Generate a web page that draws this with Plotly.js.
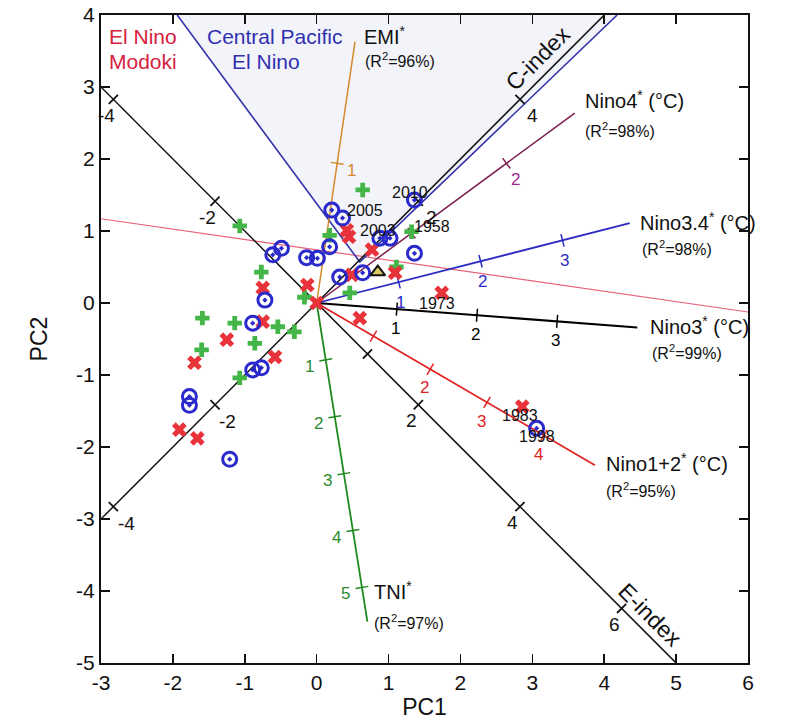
<!DOCTYPE html>
<html>
<head>
<meta charset="utf-8">
<script src="https://cdn.plot.ly/plotly-3.0.1.min.js"></script>
<style>html,body{margin:0;padding:0;background:#fff;}#chart{width:790px;height:728px;}</style>
</head>
<body>
<div id="chart"></div>
<script>
// ---------------- data ----------------
const xTickVals = [-3, -2, -1, 0, 1, 2, 3, 4, 5, 6];
const yTickVals = [-5, -4, -3, -2, -1, 0, 1, 2, 3, 4];

// biplot variable vectors (loading per unit of the variable)
const vecNames   = ['EMI', 'Nino4', 'Nino3.4', 'Nino3', 'Nino1+2', 'TNI'];
const vecUnitX   = [0.285, 1.32, 1.14, 1.115, 0.79, 0.126];
const vecUnitY   = [1.94, 0.97, 0.29, -0.085, -0.46, -0.79];
const vecLength  = [1.87, 2.72, 3.82, 4.0, 4.9, 5.6];
const vecTicks   = [[1], [1, 2], [1, 2, 3], [1, 2, 3], [1, 2, 3, 4], [1, 2, 3, 4, 5]];
const vecTickLbl = [['1'], ['', '2'], ['1', '2', '3'], ['1', '2', '3'], ['', '2', '3', '4'], ['1', '2', '3', '4', '5']];
const vecTitle   = ['EMI<sup>*</sup>', 'Nino4<sup>*</sup> (°C)', 'Nino3.4<sup>*</sup> (°C)', 'Nino3<sup>*</sup> (°C)', 'Nino1+2<sup>*</sup> (°C)', 'TNI<sup>*</sup>'];
const vecR2      = ['(R<sup>2</sup>=96%)', '(R<sup>2</sup>=98%)', '(R<sup>2</sup>=98%)', '(R<sup>2</sup>=99%)', '(R<sup>2</sup>=95%)', '(R<sup>2</sup>=97%)'];

// E and C index axes
const eIndexUnit  = [0.707, -0.707];
const eIndexSpan  = [-4.24, 7.07];
const eIndexTicks = [-4, -2, 1, 2, 4, 6];
const eIndexLbl   = ['-4', '-2', '', '2', '4', '6'];
const cIndexUnit  = [0.707, 0.707];
const cIndexSpan  = [-4.24, 5.66];
const cIndexTicks = [-4, -2, 2, 4];
const cIndexLbl   = ['-4', '-2', '2', '4'];

// regime boundaries
const cpBoundaryX = [-1.94, 0.6, 4.18];
const cpBoundaryY = [4.0, 0.57, 4.0];
const modokiX = [-3, 6];
const modokiY = [1.17, -0.125];

// events
const redX = [0.42, 0.45, 0.77, -0.13, 0.0, 0.49, 1.09, 1.74, 0.60, -0.75, -0.75, -1.25, -1.70, -0.58, -1.91, -1.66, 2.86];
const redY = [1.01, 0.92, 0.74, 0.25, 0.0, 0.39, 0.42, 0.14, -0.21, 0.21, -0.26, -0.51, -0.83, -0.75, -1.76, -1.88, -1.44];
const greenX = [0.64, -1.07, 0.18, 1.32, 1.11, 0.46, -0.17, -0.77, -1.59, -1.14, -0.54, -0.31, -0.86, -1.60, -1.07];
const greenY = [1.57, 1.07, 0.94, 0.99, 0.50, 0.14, 0.08, 0.43, -0.21, -0.28, -0.33, -0.40, -0.56, -0.65, -1.04];
const blueX = [0.21, 0.36, 1.36, 0.88, 1.02, 1.36, 0.18, -0.14, 0.01, -0.61, -0.49, 0.32, 0.64, -0.72, -0.89, -0.89, -0.77, -1.77, -1.77, -1.21, 3.06];
const blueY = [1.29, 1.18, 1.43, 0.90, 0.90, 0.69, 0.78, 0.63, 0.62, 0.67, 0.76, 0.36, 0.42, 0.04, -0.28, -0.93, -0.90, -1.30, -1.42, -2.17, -1.74];
const triX = [0.85];
const triY = [0.43];

const yearLbl = ['2005', '2010', '2003', '1958', '1973', '1983', '1998'];
const yearX   = [0.67, 1.30, 0.85, 1.60, 1.68, 2.83, 3.06];
const yearY   = [1.29, 1.54, 1.01, 1.06, 0.0, -1.56, -1.86];

// ---------------- styles ----------------
const FONT = 'Liberation Sans, Arial, Helvetica, sans-serif';
const vecLineColor  = ['#d4892a', '#7b1f4f', '#2b2bc4', '#000000', '#e02424', '#1f8a1f'];
const vecLabelColor = ['#d4892a', '#a0288c', '#2b2bc4', '#000000', '#e02424', '#2d8a2d'];
const vecWidth      = [1.5, 1.5, 1.8, 2.2, 1.8, 1.8];
const vecLblOff     = [[0.2, -0.1], [0.12, -0.23], [0.03, -0.28], [-0.02, -0.27], [-0.08, -0.26], [-0.23, -0.09]];
const vecTitlePos   = [[0.63, 3.72], [3.70, 2.82], [4.47, 1.13], [4.61, -0.31], [4.0, -2.21], [0.77, -3.99]];
const vecR2Pos      = [[0.64, 3.37], [3.70, 2.40], [4.50, 0.76], [4.64, -0.68], [4.0, -2.60], [0.77, -4.43]];

const traces = [];
const ann = [];
const TL = 0.09; // half tick length (data units)

function tickSegs(ux, uy, ts) {
  const n = Math.hypot(ux, uy);
  const px = -uy / n * TL, py = ux / n * TL;
  const xs = [], ys = [];
  ts.forEach(t => {
    xs.push(ux * t - px, ux * t + px, null);
    ys.push(uy * t - py, uy * t + py, null);
  });
  return {xs, ys};
}

// shaded central pacific region
traces.push({x: cpBoundaryX, y: cpBoundaryY, mode: 'lines', fill: 'toself',
  fillcolor: 'rgba(228,231,244,0.45)', line: {color: 'rgba(0,0,0,0)', width: 0}, hoverinfo: 'skip', showlegend: false});
// modoki line
traces.push({x: modokiX, y: modokiY, mode: 'lines', line: {color: '#e8607a', width: 1.2}, hoverinfo: 'skip', showlegend: false});
// cp boundary lines
traces.push({x: cpBoundaryX, y: cpBoundaryY, mode: 'lines', line: {color: '#3333aa', width: 1.6}, hoverinfo: 'skip', showlegend: false});

// E and C index axes
[[eIndexUnit, eIndexSpan, eIndexTicks, eIndexLbl, [-0.1, -0.22]], [cIndexUnit, cIndexSpan, cIndexTicks, cIndexLbl, [0.18, -0.23]]].forEach(([u, s, tk, lb, off]) => {
  traces.push({x: [u[0] * s[0], u[0] * s[1]], y: [u[1] * s[0], u[1] * s[1]], mode: 'lines',
    line: {color: '#111', width: 1.5}, hoverinfo: 'skip', showlegend: false});
  const seg = tickSegs(u[0], u[1], tk);
  traces.push({x: seg.xs, y: seg.ys, mode: 'lines', line: {color: '#111', width: 1.8}, hoverinfo: 'skip', showlegend: false});
  tk.forEach((t, i) => {
    if (!lb[i]) return;
    ann.push({x: u[0] * t + off[0], y: u[1] * t + off[1], text: lb[i], showarrow: false,
      font: {family: FONT, size: 19, color: '#111'}, xanchor: 'center', yanchor: 'middle'});
  });
});

// variable vectors
vecNames.forEach((nm, i) => {
  const ux = vecUnitX[i], uy = vecUnitY[i], L = vecLength[i];
  traces.push({x: [0, ux * L], y: [0, uy * L], mode: 'lines', line: {color: vecLineColor[i], width: vecWidth[i]},
    hoverinfo: 'skip', showlegend: false, name: nm});
  const seg = tickSegs(ux, uy, vecTicks[i]);
  traces.push({x: seg.xs, y: seg.ys, mode: 'lines', line: {color: vecLineColor[i], width: 1.5}, hoverinfo: 'skip', showlegend: false});
  vecTicks[i].forEach((t, k) => {
    const lb = vecTickLbl[i][k];
    if (!lb) return;
    ann.push({x: ux * t + vecLblOff[i][0], y: uy * t + vecLblOff[i][1], text: lb, showarrow: false,
      font: {family: FONT, size: 17, color: vecLabelColor[i]}, xanchor: 'center', yanchor: 'middle'});
  });
  ann.push({x: vecTitlePos[i][0], y: vecTitlePos[i][1], text: vecTitle[i], showarrow: false,
    font: {family: FONT, size: 20, color: '#111'}, xanchor: 'left', yanchor: 'middle'});
  ann.push({x: vecR2Pos[i][0], y: vecR2Pos[i][1], text: vecR2[i], showarrow: false,
    font: {family: FONT, size: 16, color: '#111'}, xanchor: 'left', yanchor: 'middle'});
});

// events
traces.push({x: greenX, y: greenY, mode: 'markers', marker: {symbol: 'cross', size: 12, color: '#44b648', line: {width: 0}}, hoverinfo: 'skip', showlegend: false});
traces.push({x: redX, y: redY, mode: 'markers', marker: {symbol: 'x', size: 13, color: '#e8333a', line: {width: 0}}, hoverinfo: 'skip', showlegend: false});
traces.push({x: blueX, y: blueY, mode: 'markers', marker: {symbol: 'circle-open-dot', size: 14, color: '#2a2acc', line: {width: 3, color: '#2a2acc'}}, hoverinfo: 'skip', showlegend: false});
traces.push({x: triX, y: triY, mode: 'markers', marker: {symbol: 'triangle-up', size: 13, color: '#d9cc66', line: {width: 2, color: '#111'}}, hoverinfo: 'skip', showlegend: false});

yearLbl.forEach((t, i) => ann.push({x: yearX[i], y: yearY[i], text: t, showarrow: false,
  font: {family: FONT, size: 16, color: '#111'}, xanchor: 'center', yanchor: 'middle'}));

// index names
ann.push({x: 3.08, y: 3.40, text: 'C-index', textangle: -45, showarrow: false, font: {family: FONT, size: 23, color: '#111'}});
ann.push({x: 4.64, y: -4.33, text: 'E-index', textangle: 45, showarrow: false, font: {family: FONT, size: 23, color: '#111'}});

// regime names
ann.push({x: -2.41, y: 3.70, text: 'El Nino', showarrow: false, font: {family: FONT, size: 21, color: '#d62040'}});
ann.push({x: -2.41, y: 3.35, text: 'Modoki', showarrow: false, font: {family: FONT, size: 21, color: '#d62040'}});
ann.push({x: -0.58, y: 3.70, text: 'Central Pacific', showarrow: false, font: {family: FONT, size: 21, color: '#3030b0'}});
ann.push({x: -0.70, y: 3.35, text: 'El Nino', showarrow: false, font: {family: FONT, size: 21, color: '#3030b0'}});

const axisCommon = {showgrid: false, zeroline: false, showline: true, linecolor: '#111', linewidth: 2,
  mirror: 'allticks', ticks: 'inside', ticklen: 9, tickwidth: 1.5, tickcolor: '#111',
  tickfont: {family: FONT, size: 21, color: '#111'}, fixedrange: true};

const layout = {
  width: 790, height: 728,
  margin: {l: 101, r: 42, t: 15, b: 65},
  paper_bgcolor: '#ffffff', plot_bgcolor: '#ffffff',
  showlegend: false,
  xaxis: Object.assign({}, axisCommon, {range: [-3, 6], tickvals: xTickVals, ticktext: xTickVals.map(String),
    title: {text: 'PC1', font: {family: FONT, size: 23, color: '#111'}, standoff: 6}}),
  yaxis: Object.assign({}, axisCommon, {range: [-5, 4], tickvals: yTickVals, ticktext: yTickVals.map(String),
    title: {text: 'PC2', font: {family: FONT, size: 23, color: '#111'}, standoff: 22}}),
  annotations: ann
};

Plotly.newPlot('chart', traces, layout, {displayModeBar: false, staticPlot: true});
</script>
</body>
</html>
